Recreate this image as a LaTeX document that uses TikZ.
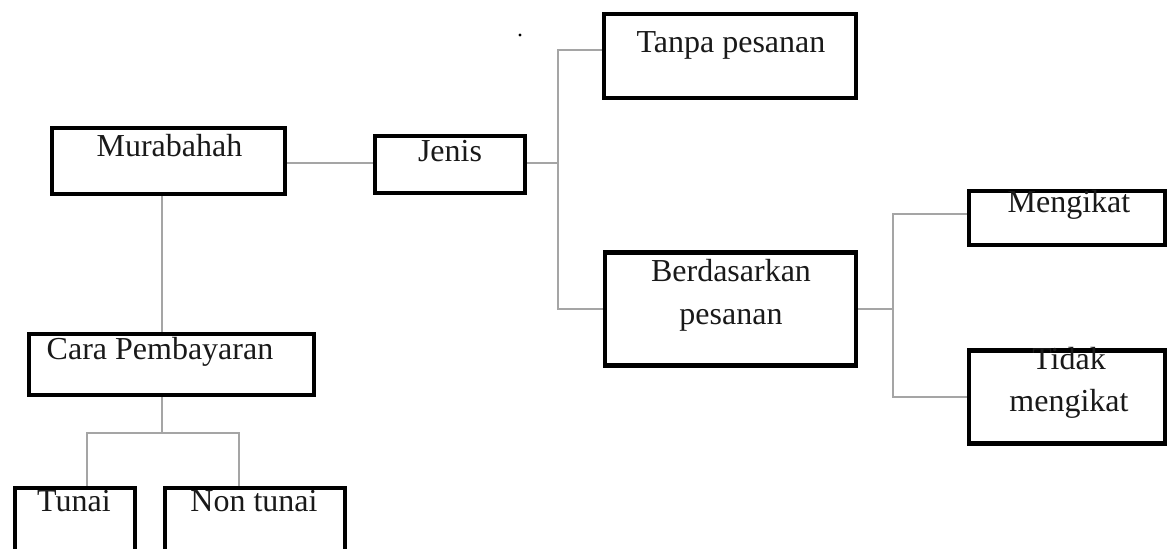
\documentclass[tikz,border=0pt]{standalone}
\usepackage{fontspec}
\setmainfont{Liberation Serif}
\definecolor{connc}{RGB}{165,165,165}
\begin{document}
\begin{tikzpicture}[x=0.5pt,y=-0.5pt,
  box/.style={draw=black, line width=2.2pt, rectangle, inner sep=0pt, fill=none},
  txt/.style={anchor=base, inner sep=0pt, font=\fontsize{16}{19}\selectfont, text=black!90},
  conn/.style={draw=connc, line width=1pt}]
\useasboundingbox (0,0) rectangle (1168,549);
\clip (0,0) rectangle (1168,549);
% boxes
\node[box, minimum width=116.5pt, minimum height=33pt] (mur) at (168.5,161) {};
\node[box, minimum width=75pt, minimum height=28.5pt] (jenis) at (450,164.5) {};
\node[box, minimum width=126pt, minimum height=42pt] (tanpa) at (730,56) {};
\node[box, minimum width=125.5pt, minimum height=56.5pt] (berd) at (730.5,309) {};
\node[box, minimum width=98pt, minimum height=27pt] (meng) at (1067,218) {};
\node[box, minimum width=98pt, minimum height=46.5pt] (tidak) at (1067,397) {};
\node[box, minimum width=142.5pt, minimum height=30.5pt] (cara) at (171.5,364.5) {};
\node[box, minimum width=60pt, minimum height=40pt] (tunai) at (75,528) {};
\node[box, minimum width=90pt, minimum height=40pt] (nontunai) at (255,528) {};
% texts
\node[txt] (murT) at (169.5,157) {Murabahah};
\node[txt] (jenisT) at (450,162) {Jenis};
\node[txt] (tanpaT) at (731,53) {Tanpa pesanan};
\node[txt] (berdT1) at (731,282) {Berdasarkan};
\node[txt] (berdT2) at (731,325) {pesanan};
\node[txt] (mengT) at (1069,213) {Mengikat};
\node[txt] (tidakT1) at (1069,370) {Tidak};
\node[txt] (tidakT2) at (1069,412) {mengikat};
\node[txt] (caraT) at (160,360) {Cara Pembayaran};
\node[txt] (tunaiT) at (74,512) {Tunai};
\node[txt] (nontunaiT) at (254,512) {Non tunai};
% stray dot
\node[circle, fill=black, inner sep=0pt, minimum size=1.6pt] (dot) at (520,35) {};
% helper coordinates
\coordinate (jt) at (558,163);
\coordinate (bt) at (893,309);
\coordinate (xl) at (162,0);
\coordinate (ct) at (162,433);
\coordinate (tl) at (87,433);
\coordinate (tr) at (239,433);
% connectors
\draw[conn] (mur.east |- jt) -- (jenis.west |- jt);
\draw[conn] (jenis.east |- jt) -- (jt);
\draw[conn] ([yshift=3pt]tanpa.west) -| (jt) |- (berd.west);
\draw[conn] (berd.east |- bt) -- (bt);
\draw[conn] ([yshift=2pt]meng.west) -| (bt) |- (tidak.west);
\draw[conn] (mur.south -| xl) -- (cara.north -| xl);
\draw[conn] (cara.south -| xl) -- (ct);
\draw[conn] (tunai.north -| tl) -- (tl) -- (tr) -- (nontunai.north -| tr);
\end{tikzpicture}
\end{document}
